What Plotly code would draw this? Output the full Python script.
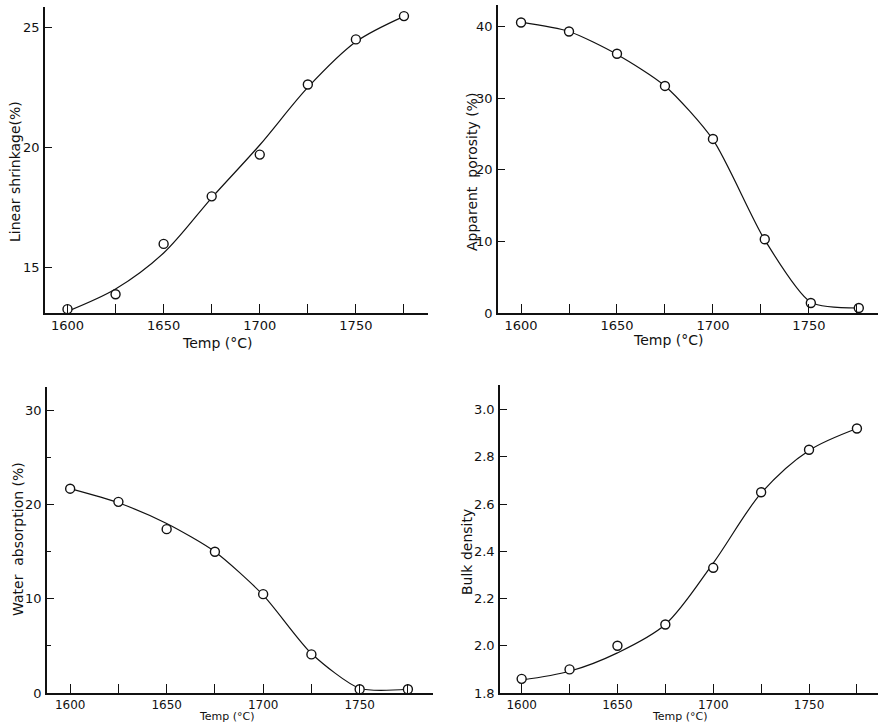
import plotly.graph_objects as go

# Firing temperature (°C) of each measured sample
temp = [1600, 1625, 1650, 1675, 1700, 1725, 1750, 1775]
temp_porosity = [1600, 1625, 1650, 1675, 1700, 1727, 1751, 1776]

# Measured properties
shrinkage = [13.26, 13.88, 15.98, 17.96, 19.70, 22.62, 24.50, 25.47]
porosity = [40.55, 39.3, 36.2, 31.7, 24.3, 10.3, 1.4, 0.7]
absorption = [21.7, 20.3, 17.4, 15.0, 10.5, 4.1, 0.4, 0.4]
density = [1.86, 1.90, 2.00, 2.09, 2.33, 2.65, 2.83, 2.92]

# Hand-drawn trend lines, read at the same temperatures
shrinkage_fit = [13.17, 14.1, 15.6, 17.9, 20.1, 22.5, 24.4, 25.46]
porosity_fit = [40.6, 39.3, 36.1, 31.7, 24.2, 10.2, 1.5, 0.7]
absorption_fit = [21.7, 20.2, 18.0, 15.0, 10.4, 4.2, 0.5, 0.4]
density_fit = [1.855, 1.892, 1.97, 2.09, 2.35, 2.646, 2.827, 2.92]

# Axis ticks
x_ticks = [1600, 1625, 1650, 1675, 1700, 1725, 1750, 1775]
x_labels = ["1600", "", "1650", "", "1700", "", "1750", ""]
y1_ticks = [15, 20, 25]
y2_ticks = [0, 10, 20, 30, 40]
y3_ticks = [0, 10, 20, 30]
y4_ticks = [1.8, 2.0, 2.2, 2.4, 2.6, 2.8, 3.0]
y4_labels = ["1.8", "2.0", "2.2", "2.4", "2.6", "2.8", "3.0"]

W, H = 879, 726
FONT = "DejaVu Sans"
INK = "#111111"


def px_x(p):
    return p / W


def px_y(p):
    return 1 - p / H


panels = [
    # x, y, fit, smoothing, x-domain(px), y-domain(px), x-range, y-range, x tick font
    (temp, shrinkage, shrinkage_fit, 0.9, (45, 428), (313, 7), (1588.3, 1787.5), (13.1, 25.85), 13),
    (temp_porosity, porosity, porosity_fit, 0.7, (498, 878), (313, 5), (1588, 1786), (0, 43.0), 13),
    (temp, absorption, absorption_fit, 0.7, (47, 433), (693, 387), (1588, 1788), (0, 32.5), 12),
    (temp, density, density_fit, 0.9, (500, 878), (693, 385), (1588.7, 1786), (1.8, 3.104), 12),
]

fig = go.Figure()
layout = {}
for i, (xs, ys, fit, smooth, xd, yd, xr, yr, xfs) in enumerate(panels, start=1):
    sfx = "" if i == 1 else str(i)
    fig.add_trace(go.Scatter(
        x=xs, y=fit, mode="lines",
        line=dict(color=INK, width=1.2, shape="spline", smoothing=smooth),
        xaxis="x" + sfx, yaxis="y" + sfx, hoverinfo="skip", showlegend=False,
    ))
    fig.add_trace(go.Scatter(
        x=xs, y=ys, mode="markers",
        marker=dict(symbol="circle", size=9, color="white", line=dict(color=INK, width=1.4)),
        xaxis="x" + sfx, yaxis="y" + sfx, showlegend=False,
    ))
    layout["xaxis" + sfx] = dict(
        domain=[px_x(xd[0]), px_x(xd[1])], range=list(xr), anchor="y" + sfx,
        showline=True, linecolor=INK, linewidth=1.5, showgrid=False, zeroline=False,
        ticks="inside", ticklen=9, tickwidth=1.2, tickcolor=INK,
        tickmode="array", tickvals=x_ticks, ticktext=x_labels,
        tickfont=dict(family=FONT, size=xfs, color=INK), automargin=False,
        ticklabelstandoff=0,
    )
    layout["yaxis" + sfx] = dict(
        domain=[px_y(yd[0]), px_y(yd[1])], range=list(yr), anchor="x" + sfx,
        showline=True, linecolor=INK, linewidth=1.5, showgrid=False, zeroline=False,
        ticks="inside", ticklen=7, tickwidth=1.2, tickcolor=INK,
        tickfont=dict(family=FONT, size=13, color=INK), automargin=False,
        ticklabelstandoff=1,
    )

layout["yaxis"].update(tickmode="array", tickvals=y1_ticks)
layout["yaxis2"].update(tickmode="array", tickvals=y2_ticks)
layout["yaxis3"].update(tickmode="array", tickvals=y3_ticks,
                        minor=dict(dtick=5, ticks="inside", ticklen=4, tickcolor=INK, showgrid=False))
layout["yaxis4"].update(tickmode="array", tickvals=y4_ticks, ticktext=y4_labels)

titles = [
    ("Linear shrinkage(%)", 15, 172, -90, 14),
    ("Temp (°C)", 217, 343, 0, 14),
    ("Apparent\u00a0\u00a0porosity (%)", 472, 172, -90, 14),
    ("Temp (°C)", 668, 340, 0, 14),
    ("Water\u00a0\u00a0absorption (%)", 18, 539, -90, 14),
    ("Temp (°C)", 227, 716, 0, 11),
    ("Bulk density", 467, 552, -90, 14),
    ("Temp (°C)", 680, 716, 0, 11),
]
annotations = [
    dict(text=t, x=px_x(x), y=px_y(y), xref="paper", yref="paper", showarrow=False,
         textangle=a, xanchor="center", yanchor="middle",
         font=dict(family=FONT, size=s, color=INK))
    for t, x, y, a, s in titles
]

fig.update_layout(
    width=W, height=H, margin=dict(l=0, r=0, t=0, b=0),
    paper_bgcolor="white", plot_bgcolor="white",
    annotations=annotations, **layout,
)

fig.write_html("out.html")
